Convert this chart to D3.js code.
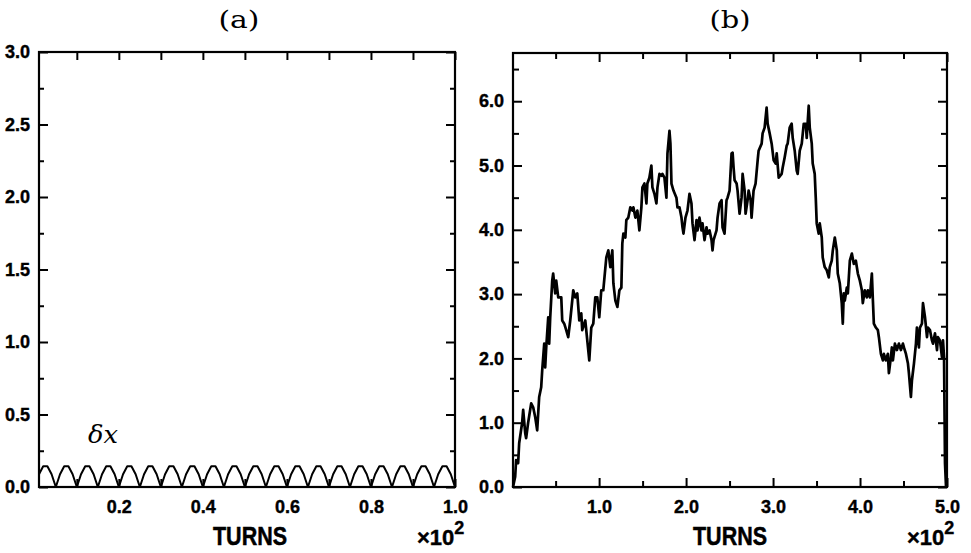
<!DOCTYPE html>
<html><head><meta charset="utf-8">
<script src="https://cdn.jsdelivr.net/npm/d3@7"></script>
<style>body{margin:0;background:#fff}</style>
</head><body>
<svg id="c" width="971" height="553"></svg>
<script>
// ---------- DATA ----------
// panel (a): delta x per turn (turns 1..100)
const deltaA = [
0.088,0.143,0.143,0.088,0.000, 0.088,0.143,0.143,0.088,0.000,
0.088,0.143,0.143,0.088,0.000, 0.088,0.143,0.143,0.088,0.000,
0.088,0.143,0.143,0.088,0.000, 0.088,0.143,0.143,0.088,0.000,
0.088,0.143,0.143,0.088,0.000, 0.088,0.143,0.143,0.088,0.000,
0.088,0.143,0.143,0.088,0.000, 0.088,0.143,0.143,0.088,0.000,
0.088,0.143,0.143,0.088,0.000, 0.088,0.143,0.143,0.088,0.000,
0.088,0.143,0.143,0.088,0.000, 0.088,0.143,0.143,0.088,0.000,
0.088,0.143,0.143,0.088,0.000, 0.088,0.143,0.143,0.088,0.000,
0.088,0.143,0.143,0.088,0.000, 0.088,0.143,0.143,0.088,0.000,
0.088,0.143,0.143,0.088,0.000, 0.088,0.143,0.143,0.088,0.000
];
// panel (b): turns and values
const turnsB = [
1,3.5,4.6,6.9,8.1,11.5,12.7,15,16.1,18.4,
21.9,24.2,26.5,28.8,31.1,33.4,34.6,36.9,38,39.2,
41.5,42.6,43.8,46.1,47.2,49.5,50.7,53,56.5,57.6,
59.9,62.2,64.5,66.8,70.3,72.6,74.9,77.2,79.5,80.6,
84.1,86.4,88.7,91,93.3,95.6,97.9,100.2,102.5,104.8,
108.3,110.6,112.9,115.2,116.4,118.7,121,123.3,125.6,126.7,
127.9,130.2,131.3,133.6,135.9,138.3,139.4,141.7,144,146.3,
148.6,149.8,152.1,154.4,155.5,157.8,160.1,161.3,163.6,165.9,
167.1,169.4,171.7,172.8,175.1,177.4,178.6,180.9,182,183.2,
185.5,188.9,190.1,192.4,194.7,195.9,197,199.3,201.6,203.9,
206.2,207.4,209.7,212,213.1,215.4,217.7,218.9,221.2,223.5,
224.7,227,229.3,230.4,231.6,235,236.2,238.5,240.8,241.9,
244.2,246.5,247.7,250,252.3,253.5,254.6,255.8,258.1,259.2,
261.5,263.8,265,267.3,268.4,270.7,271.9,274.2,275.3,277.6,
279.9,282.3,283.4,286.9,288,290.3,292.6,293.8,296.1,298.4,
300.7,303,304.2,306.5,309.9,311.1,313.4,315.7,316.8,319.1,
321.4,322.6,324.9,327.2,328.3,330.7,333,335.3,337.6,338.7,
341,342.2,344.5,345.6,347.9,349.1,350.2,352.5,353.7,356,
357.1,359.4,361.8,364.1,365.2,367.5,368.7,371,373.3,374.4,
376.7,379,380.2,381.3,382.5,384.8,386,388.3,390.6,392.9,
395.2,397.5,399.8,402.1,403.2,405.5,407.8,409,411.3,413.6,
414.8,415.9,418.2,420.5,421.7,424,426.3,427.4,429.7,432,
433.2,435.5,436.6,437.8,440.1,442.4,444.7,447,449.3,450.5,
452.8,455.1,456.2,458.5,459.7,462,464.3,465.4,467.7,468.9,
471.2,472.4,474.7,477,478.1,480.4,482.7,483.9,486.2,488.5,
489.6,491.9,494.2,495.4,496.6,497.7,498.9
];
const deltaB = [
0.0,0.16,0.42,0.37,0.68,1.0,1.2,0.84,0.76,1.0,
1.3,1.24,1.09,0.88,1.4,1.55,1.82,2.23,1.86,2.17,
2.64,2.23,2.64,3.21,3.32,3.01,3.21,2.95,2.95,2.59,
2.54,2.44,2.33,2.59,3.06,2.95,3.01,2.59,2.7,2.44,
2.59,2.28,1.97,2.48,2.54,2.95,2.95,2.64,3.06,3.06,
3.57,3.68,3.42,3.68,3.17,2.9,2.8,3.06,3.1,3.79,
3.94,3.88,4.15,4.19,4.35,4.3,4.35,4.19,4.3,3.99,
4.35,4.66,4.72,4.41,4.72,4.81,5.0,4.66,4.56,4.41,
4.66,4.87,4.84,4.87,4.81,4.5,5.19,5.54,5.34,4.72,
4.61,4.5,4.35,4.35,4.19,4.04,3.94,4.19,4.3,4.56,
4.41,4.1,3.84,4.15,3.99,4.19,3.99,4.1,3.84,4.04,
3.94,3.99,3.84,3.68,3.84,3.99,4.19,4.41,4.46,4.04,
3.94,4.46,4.5,4.61,5.19,5.2,4.97,4.77,4.72,4.61,
4.25,4.5,4.87,4.61,4.25,4.46,4.61,4.46,4.19,4.61,
4.72,5.08,5.23,5.34,5.5,5.59,5.9,5.65,5.5,5.34,
5.08,5.03,5.19,4.81,4.87,4.97,5.13,5.31,5.34,5.59,
5.65,5.43,5.23,4.92,4.87,5.23,5.34,5.65,5.65,5.43,
5.93,5.59,5.34,5.03,4.87,4.5,4.1,3.94,4.1,3.88,
3.57,3.42,3.37,3.26,3.42,3.52,3.68,3.88,3.68,3.32,
3.17,2.86,2.54,3.01,2.9,3.1,3.01,3.52,3.63,3.47,
3.52,3.32,3.21,3.06,2.86,3.06,2.95,3.06,2.95,3.32,
2.9,2.54,2.48,2.44,2.33,2.07,1.97,2.07,1.97,2.07,
1.77,2.02,2.17,1.97,2.23,2.13,2.23,2.13,2.23,2.17,
2.07,1.92,1.77,1.40,1.66,1.92,2.23,2.48,2.17,2.48,
2.54,2.86,2.64,2.33,2.48,2.44,2.28,2.23,2.39,2.13,
2.33,2.28,2.02,2.28,2.02,0.37,0.0
];
// tick values
const xMajorA = [0.2,0.4,0.6,0.8,1.0];
const xMinorA = [0.1,0.3,0.5,0.7,0.9];
const yMajorA = [0.0,0.5,1.0,1.5,2.0,2.5,3.0];
const yMinorA = [0.25,0.75,1.25,1.75,2.25,2.75];
const xMajorB = [1.0,2.0,3.0,4.0,5.0];
const xMinorB = [0.5,1.5,2.5,3.5,4.5];
const yMajorB = [0,1,2,3,4,5,6];
const yMinorB = [0.5,1.5,2.5,3.5,4.5,5.5,6.5];
const titles = ["(a)","(b)"];
const xTitle = "TURNS";

// ---------- DRAW ----------
const svg = d3.select("#c");
const tickFont = "'Liberation Sans Narrow','Arial Narrow','Liberation Sans',sans-serif";
const fmt = d3.format(".1f");

const xa = d3.scaleLinear([0.01, 1.0], [39, 455]);
const ya = d3.scaleLinear([0, 3], [487, 52]);
const xb = d3.scaleLinear([0.01, 5.0], [513, 947]);
const yb = d3.scaleLinear([0, 6.75], [487, 53]);

function styleText(sel){
  sel.selectAll("text").attr("font-family", tickFont).attr("font-size", 18)
     .attr("font-weight", "bold").attr("fill", "#000")
     .attr("stroke", "#000").attr("stroke-width", 0.4);
}
function drawAxes(x, y, xMaj, xMin, yMaj, yMin, xLen, xMinLen, yLen, yMinLen){
  const g = svg.append("g");
  const [x0, x1] = x.range(), [y0, y1] = y.range();
  const put = (axis, tr) => {
    const a = g.append("g").attr("transform", tr).call(axis);
    a.select(".domain").remove();
    a.selectAll("line").attr("stroke", "#000").attr("stroke-width", 2);
    styleText(a);
    return a;
  };
  put(d3.axisBottom(x).tickValues(xMaj).tickSize(-xLen).tickPadding(13).tickFormat(fmt), `translate(0,${y0})`);
  put(d3.axisBottom(x).tickValues(xMin).tickSize(-xMinLen).tickFormat(""), `translate(0,${y0})`);
  put(d3.axisTop(x).tickValues(xMaj).tickSize(-xLen).tickFormat(""), `translate(0,${y1})`);
  put(d3.axisTop(x).tickValues(xMin).tickSize(-xMinLen).tickFormat(""), `translate(0,${y1})`);
  put(d3.axisLeft(y).tickValues(yMaj).tickSize(-yLen).tickPadding(9).tickFormat(fmt), `translate(${x0},0)`);
  put(d3.axisLeft(y).tickValues(yMin).tickSize(-yMinLen).tickFormat(""), `translate(${x0},0)`);
  put(d3.axisRight(y).tickValues(yMaj).tickSize(-yLen).tickFormat(""), `translate(${x1},0)`);
  put(d3.axisRight(y).tickValues(yMin).tickSize(-yMinLen).tickFormat(""), `translate(${x1},0)`);
  g.append("rect").attr("x", x0).attr("y", y1).attr("width", x1 - x0).attr("height", y0 - y1)
    .attr("fill", "none").attr("stroke", "#000").attr("stroke-width", 2.2);
}

drawAxes(xa, ya, xMajorA, xMinorA, yMajorA, yMinorA, 8, 8, 9, 5);
drawAxes(xb, yb, xMajorB, xMinorB, yMajorB, yMinorB, 9, 6, 9, 6);

// data lines
const lineA = d3.line().x((d, i) => xa((i + 1) / 100)).y(d => ya(d));
svg.append("path").datum(deltaA).attr("d", lineA)
  .attr("fill", "none").attr("stroke", "#000").attr("stroke-width", 2).attr("stroke-linejoin", "round");

const lineB = d3.line().x((d, i) => xb(turnsB[i] / 100)).y(d => yb(d));
svg.append("path").datum(deltaB).attr("d", lineB)
  .attr("fill", "none").attr("stroke", "#000").attr("stroke-width", 2.7).attr("stroke-linejoin", "round");

// titles
[[titles[0], 239], [titles[1], 730]].forEach(([t, cx]) => {
  svg.append("text").attr("x", cx).attr("y", 28).attr("text-anchor", "middle")
    .attr("font-family", "'DejaVu Serif','Liberation Serif',serif").attr("font-size", 25)
    .attr("textLength", 41).attr("lengthAdjust", "spacingAndGlyphs").text(t);
});
// delta x label
svg.append("text").attr("x", 88).attr("y", 443)
  .attr("font-family", "'DejaVu Serif','Liberation Serif',serif").attr("font-style", "italic")
  .attr("font-size", 25).attr("textLength", 30).attr("lengthAdjust", "spacingAndGlyphs").text("δx");

// x titles and multipliers
[[250, 417], [730, 907]].forEach(([cx, mx]) => {
  svg.append("text").attr("x", cx).attr("y", 545).attr("text-anchor", "middle")
    .attr("font-family", tickFont).attr("font-weight", "bold").attr("font-size", 25)
    .attr("stroke", "#000").attr("stroke-width", 0.5)
    .attr("textLength", 74).attr("lengthAdjust", "spacingAndGlyphs").text(xTitle);
  const m = svg.append("text").attr("x", mx).attr("y", 545)
    .attr("font-family", tickFont).attr("font-weight", "bold").attr("font-size", 22)
    .attr("stroke", "#000").attr("stroke-width", 0.4);
  m.append("tspan").text("×10");
  m.append("tspan").attr("dy", -11).attr("font-size", 18).text("2");
});
</script>
</body></html>
